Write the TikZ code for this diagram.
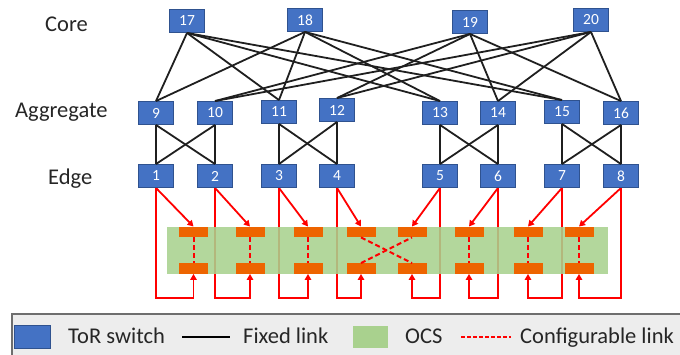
\documentclass[tikz,border=0pt]{standalone}
\usepackage{fontspec}
\setmainfont{Carlito}
\usetikzlibrary{arrows.meta,calc}
\definecolor{torblue}{RGB}{68,114,196}
\definecolor{torborder}{RGB}{47,82,143}
\definecolor{ocsgreen}{RGB}{169,209,142}
\definecolor{barorange}{RGB}{237,100,0}
\definecolor{lgdgray}{RGB}{237,237,237}
\definecolor{lgdborder}{RGB}{110,110,110}
\definecolor{txtgray}{RGB}{38,38,38}
\pgfdeclarelayer{back}
\pgfdeclarelayer{mid}
\pgfsetlayers{back,mid,main}
\begin{document}
\begin{tikzpicture}[x=1pt,y=-1pt,
 tor/.style={rectangle, fill=torblue, draw=torborder, line width=0.9pt, minimum width=35pt, minimum height=23pt, inner sep=0pt, text=white, font=\fontsize{15.5}{15.5}\selectfont},
 fixed/.style={black!88, line width=1.8pt},
 cfg/.style={red, line width=2pt, dash pattern=on 5pt off 3pt},
 redarr/.style={red, line width=1.8pt, -{Triangle[length=6pt,width=6.5pt]}},
 bar/.style={rectangle, fill=barorange, minimum width=29pt, minimum height=10.5pt, inner sep=0pt},
 lbl/.style={font=\fontsize{22.5}{22.5}\selectfont, text=txtgray, inner sep=0pt, anchor=base west}]

\useasboundingbox (0,0) rectangle (680,355);

% layer labels
\node[lbl] (lcore) at (45,32) {Core};
\node[lbl] (lagg) at (15,118) {Aggregate};
\node[lbl] (ledge) at (48,185) {Edge};

% core switches
\node[tor] (c17) at (187,21) {17};
\node[tor] (c18) at (305,20) {18};
\node[tor] (c19) at (470,22) {19};
\node[tor] (c20) at (591,20) {20};

% aggregate switches
\node[tor] (a9)  at (156,113) {9};
\node[tor] (a10) at (215,113) {10};
\node[tor] (a11) at (279,112) {11};
\node[tor] (a12) at (337,110) {12};
\node[tor] (a13) at (440,113) {13};
\node[tor] (a14) at (498,113) {14};
\node[tor] (a15) at (562,112) {15};
\node[tor] (a16) at (621,113) {16};

% edge switches
\node[tor] (e1) at (156,176) {1};
\node[tor] (e2) at (215,176) {2};
\node[tor] (e3) at (279,176) {3};
\node[tor] (e4) at (337,176) {4};
\node[tor] (e5) at (440,176) {5};
\node[tor] (e6) at (498,176) {6};
\node[tor] (e7) at (562,176) {7};
\node[tor] (e8) at (621,176) {8};

% core - aggregate links
\foreach \c in {17,18}{\foreach \a in {9,11,13,15}{\draw[fixed] (c\c.south) -- (a\a.north);}}
\foreach \c in {19,20}{\foreach \a in {10,12,14,16}{\draw[fixed] (c\c.south) -- (a\a.north);}}

% aggregate - edge links
\foreach \a/\b/\x/\y in {9/10/1/2, 11/12/3/4, 13/14/5/6, 15/16/7/8}{
  \draw[fixed] (a\a.south) -- (e\x.north);
  \draw[fixed] (a\a.south) -- (e\y.north);
  \draw[fixed] (a\b.south) -- (e\x.north);
  \draw[fixed] (a\b.south) -- (e\y.north);
}

% OCS ports
\foreach \i/\x in {1/193.5, 2/250, 3/308, 4/361, 5/412, 6/469, 7/528, 8/579}{
  \node[bar] (t\i) at (\x,232) {};
  \node[bar] (b\i) at (\x,268.5) {};
}
\coordinate (loopy) at (0,298);

% OCS body
\begin{pgfonlayer}{mid}
\fill[ocsgreen, fill opacity=0.88] (167,227) rectangle (608,274);
\end{pgfonlayer}

% red solid links
\begin{pgfonlayer}{back}
\foreach \i in {1,...,8}{
  \draw[redarr] (e\i.south) -- (t\i.north);
  \draw[redarr] (e\i.south) -- (e\i.south |- loopy) -| (b\i.south);
}
\end{pgfonlayer}

% configurable links
\foreach \i in {1,2,3,6,7,8}{\draw[cfg] (t\i.south) -- (b\i.north);}
\draw[cfg] (t4.south) -- (b5.north);
\draw[cfg] (b4.north) -- (t5.south);

% legend
\fill[lgdgray] (12,314) rectangle (690,362);
\draw[lgdborder, line width=1.3pt] (12,362) -- (12,314) -- (690,314);
\node[rectangle, fill=torblue, draw=torborder, line width=0.9pt, minimum width=36pt, minimum height=23pt, inner sep=0pt] (lgtor) at (32,336.5) {};
\node[lbl] (lgtortxt) at (68,344) {ToR switch};
\coordinate (lgf1) at (182,337);
\coordinate (lgf2) at (230,337);
\draw[black, line width=1.5pt] (lgf1) -- (lgf2);
\node[lbl] (lgfixtxt) at (243,344) {Fixed link};
\node[rectangle, fill=ocsgreen, minimum width=35pt, minimum height=22pt, inner sep=0pt] (lgocs) at (370.5,337) {};
\node[lbl] (lgocstxt) at (405,344) {OCS};
\coordinate (lgc1) at (461,337);
\coordinate (lgc2) at (511,337);
\draw[red, line width=1.5pt, dash pattern=on 4pt off 2pt] (lgc1) -- (lgc2);
\node[lbl] (lgcfgtxt) at (520,344) {Configurable link};
\end{tikzpicture}
\end{document}
